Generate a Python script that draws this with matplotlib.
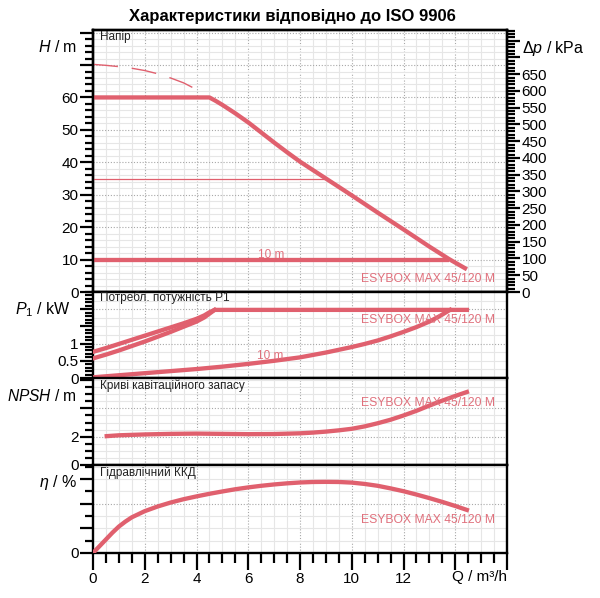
import matplotlib
matplotlib.use('Agg')
import numpy as np
import matplotlib.pyplot as plt
from matplotlib.ticker import MultipleLocator, FixedLocator, FixedFormatter

plt.rcParams['font.family'] = ['Liberation Sans', 'DejaVu Sans']
plt.rcParams['mathtext.fontset'] = 'custom'
plt.rcParams['mathtext.rm'] = 'Liberation Sans'
plt.rcParams['mathtext.it'] = 'Liberation Sans:italic'

# ---------------- data ----------------
title = "Характеристики відповідно до ISO 9906"
model = "ESYBOX MAX 45/120 M"
panel_names = ["Напір", "Потребл. потужність P1", "Криві кавітаційного запасу", "Гідравлічний ККД"]

q_head = [0, 4.5, 4.75, 5, 5.5, 6, 6.5, 7, 7.5, 8, 8.5, 9, 10, 11, 12, 13, 13.75, 14.45]
h_head = [60, 60, 58.9, 57.7, 55.1, 52.3, 49.2, 46.1, 43.1, 40.2, 37.6, 35.0, 29.8, 24.5, 19.3, 14.0, 10.2, 7.0]

q_dash = [0, 0.5, 1, 1.5, 2, 2.5, 3, 3.5, 3.94]
h_dash = [70.2, 69.9, 69.5, 69.0, 68.3, 67.3, 66.0, 64.5, 62.7]

q_h10 = [0, 13.75]
h_h10 = [10, 10]
q_h35 = [0, 8.97]
h_h35 = [35, 35]

q_p_up = [0, 0.5, 1, 1.5, 2, 2.5, 3, 3.5, 4, 4.3, 4.5, 4.7, 14.45]
p_up = [0.76, 0.87, 0.99, 1.11, 1.23, 1.35, 1.47, 1.59, 1.72, 1.82, 1.91, 1.98, 1.98]
q_p_lo = [0, 0.5, 1, 1.5, 2, 2.5, 3, 3.5, 4, 4.3, 4.5, 4.7]
p_lo = [0.57, 0.68, 0.80, 0.93, 1.06, 1.20, 1.34, 1.49, 1.64, 1.76, 1.87, 1.98]
q_p10 = [0, 1, 2, 3, 4, 5, 6, 7, 8, 9, 10, 10.5, 11, 11.5, 12, 12.5, 13, 13.4, 13.8]
p_10 = [0.02, 0.08, 0.14, 0.20, 0.26, 0.33, 0.41, 0.50, 0.60, 0.74, 0.90, 0.99, 1.09, 1.21, 1.34, 1.48, 1.64, 1.80, 1.98]

q_npsh = [0.53, 1, 2, 3, 4, 5, 6, 7, 8, 8.5, 9, 9.5, 10, 10.5, 11, 11.5, 12, 12.5, 13, 13.5, 14, 14.45]
npsh = [2.04, 2.10, 2.16, 2.20, 2.22, 2.20, 2.18, 2.19, 2.24, 2.29, 2.36, 2.45, 2.56, 2.73, 2.95, 3.20, 3.50, 3.83, 4.20, 4.55, 4.88, 5.16]

q_eta = [0, 0.25, 0.5, 0.75, 1, 1.25, 1.5, 2, 2.5, 3, 3.5, 4, 4.5, 5, 5.5, 6, 6.5, 7, 7.5, 8, 8.5, 9,
         9.5, 10, 10.5, 11, 11.5, 12, 12.5, 13, 13.5, 14, 14.45]
eta = [0, 5.5, 11, 16.5, 21.5, 25.5, 29, 34, 37.8, 41, 43.7, 46, 48.1, 50, 51.8, 53.3, 54.6, 55.7, 56.6, 57.3, 57.7, 57.8,
       57.7, 57.2, 56.1, 54.6, 52.5, 50.2, 47.5, 44.6, 41.5, 38.2, 35]

x_ticks = [0, 2, 4, 6, 8, 10, 12, 14, 16]
x_ticklabels = ["0", "2", "4", "6", "8", "10", "12", "", ""]
h_ticks = [0, 10, 20, 30, 40, 50, 60, 70, 80]
h_ticklabels = ["0", "10", "20", "30", "40", "50", "60", "", ""]
kpa_ticks = list(range(0, 800, 50))
kpa_ticklabels = [str(v) if v <= 650 else "" for v in kpa_ticks]
p_ticks = [0, 0.5, 1, 1.5, 2]
p_ticklabels = ["0", "0.5", "1", "", ""]
n_ticks = [0, 2, 4, 6]
n_ticklabels = ["0", "2", "", ""]
e_ticks = [0, 20, 40, 60]
e_ticklabels = ["0", "", "", ""]

# ---------------- style ----------------
RED = '#E0606E'
TXT = '#E0707C'
W, HH = 600, 598
fig = plt.figure(figsize=(6, 5.98), dpi=100)

def rect(top, bottom):
    return [93 / W, 1 - bottom / HH, (507 - 93) / W, (bottom - top) / HH]

def style(ax, showx=False):
    for s in ax.spines.values():
        s.set_linewidth(1.7)
        s.set_color('black')
    ax.tick_params(which='major', direction='out', length=9.5, width=1.6, labelsize=11, pad=1)
    ax.tick_params(which='minor', direction='out', length=5.5, width=1.6)
    ax.tick_params(axis='y', right=False)
    ax.tick_params(axis='x', top=False)
    if not showx:
        ax.tick_params(axis='x', which='both', bottom=False, labelbottom=False)
    ax.set_xlim(0, 16)
    ax.xaxis.set_major_locator(FixedLocator(x_ticks))
    ax.xaxis.set_major_formatter(FixedFormatter(x_ticklabels))
    ax.xaxis.set_minor_locator(MultipleLocator(0.5))
    for xv in np.arange(0.5, 16, 0.5):
        if xv % 2 == 0:
            ax.axvline(xv, color='#a8a8a8', lw=0.8, ls=(0, (1, 1.6)), zorder=0)
        else:
            ax.axvline(xv, color='#e6e6e6', lw=0.8, zorder=0)

def hgrid(ax, minor_vals, major_vals):
    for v in minor_vals:
        ax.axhline(v, color='#e6e6e6', lw=0.8, zorder=0)
    for v in major_vals:
        ax.axhline(v, color='#a8a8a8', lw=0.8, ls=(0, (1, 1.6)), zorder=0)

LW = 3.1

# ---- Head panel ----
ax1 = fig.add_axes(rect(30, 292))
style(ax1)
ax1.set_ylim(0, 80.8)
ax1.yaxis.set_major_locator(FixedLocator(h_ticks))
ax1.yaxis.set_major_formatter(FixedFormatter(h_ticklabels))
ax1.yaxis.set_minor_locator(MultipleLocator(2))
hgrid(ax1, [v for v in np.arange(2, 80, 2) if v % 10 != 0], [10, 20, 30, 40, 50, 60, 70, 80])
ax1.plot(q_head, h_head, color=RED, lw=LW, solid_capstyle='butt', solid_joinstyle='round', zorder=3)
ax1.plot(q_h10, h_h10, color=RED, lw=LW, solid_capstyle='butt', zorder=3)
ax1.plot(q_h35, h_h35, color=RED, lw=0.9, zorder=3)
ax1.plot(q_dash, h_dash, color=RED, lw=1.0, dashes=(18, 10), zorder=3)
ax1.text(6.9, 11.4, "10 m", color=TXT, fontsize=8.5, ha='center', va='center')
ax1.text(15.55, 4.0, model, color=TXT, fontsize=8.7, ha='right', va='center')

ax1r = ax1.twinx()
ax1r.set_ylim(0, 782)
ax1r.yaxis.set_major_locator(FixedLocator(kpa_ticks))
ax1r.yaxis.set_major_formatter(FixedFormatter(kpa_ticklabels))
ax1r.yaxis.set_minor_locator(MultipleLocator(10))
ax1r.tick_params(which='major', direction='out', length=9.5, width=1.6, labelsize=11, pad=1)
ax1r.tick_params(which='minor', direction='out', length=5.5, width=1.6)
for s in ax1r.spines.values():
    s.set_linewidth(1.7)

# ---- Power panel ----
ax2 = fig.add_axes(rect(292, 378))
style(ax2)
ax2.set_ylim(0, 2.5)
ax2.yaxis.set_major_locator(FixedLocator(p_ticks))
ax2.yaxis.set_major_formatter(FixedFormatter(p_ticklabels))
ax2.yaxis.set_minor_locator(MultipleLocator(0.1))
hgrid(ax2, [0.25, 0.5, 0.75, 1.25, 1.5, 1.75, 2.25], [1, 2])
ax2.plot(q_p_up, p_up, color=RED, lw=LW, solid_joinstyle='round', zorder=3)
ax2.plot(q_p_lo, p_lo, color=RED, lw=LW, solid_joinstyle='round', zorder=3)
ax2.plot(q_p10, p_10, color=RED, lw=LW, solid_joinstyle='round', zorder=3)
ax2.text(6.86, 0.64, "10 m", color=TXT, fontsize=8.5, ha='center', va='center')
ax2.text(15.55, 1.69, model, color=TXT, fontsize=8.7, ha='right', va='center')

# ---- NPSH panel ----
ax3 = fig.add_axes(rect(378, 465))
style(ax3)
ax3.set_ylim(0, 6.15)
ax3.yaxis.set_major_locator(FixedLocator(n_ticks))
ax3.yaxis.set_major_formatter(FixedFormatter(n_ticklabels))
ax3.yaxis.set_minor_locator(MultipleLocator(0.5))
hgrid(ax3, [0.5, 1, 1.5, 2.5, 3, 3.5, 4.5, 5, 5.5, 6], [2, 4])
ax3.plot(q_npsh, npsh, color=RED, lw=LW, solid_joinstyle='round', zorder=3)
ax3.text(15.55, 4.39, model, color=TXT, fontsize=8.7, ha='right', va='center')

# ---- Efficiency panel ----
ax4 = fig.add_axes(rect(465, 553))
style(ax4, showx=True)
ax4.set_ylim(0, 71.5)
ax4.yaxis.set_major_locator(FixedLocator(e_ticks))
ax4.yaxis.set_major_formatter(FixedFormatter(e_ticklabels))
ax4.yaxis.set_minor_locator(MultipleLocator(10))
hgrid(ax4, [10, 20, 30, 50, 60, 70], [40])
ax4.plot(q_eta, eta, color=RED, lw=LW, solid_joinstyle='round', zorder=3)
ax4.text(15.55, 26.8, model, color=TXT, fontsize=8.7, ha='right', va='center')
ax4.tick_params(axis='x', which='major', length=12, labelsize=11, pad=2)
ax4.tick_params(axis='x', which='minor', length=7)

# ---- texts ----
def ft(xpx, ypx, s, **kw):
    fig.text(xpx / W, 1 - ypx / HH, s, **kw)

ft(292, 17, title, ha='center', va='center', fontsize=12, fontweight='bold')
ft(77, 47, r"$H$ / m", ha='right', va='center', fontsize=11.5)
ft(522, 48, r"$\Delta p$ / kPa", ha='left', va='center', fontsize=11.5)
ft(71, 310, r"$P_1$ / kW", ha='right', va='center', fontsize=11.5)
ft(77, 396, r"$NPSH$ / m", ha='right', va='center', fontsize=11.2)
ft(77, 483, r"$\eta$ / %", ha='right', va='center', fontsize=11.5)
ft(507, 577, "Q / m³/h", ha='right', va='center', fontsize=11)

for yp, name in zip([37, 298, 386, 473], panel_names):
    ft(100, yp, name, ha='left', va='center', fontsize=8.5, color='#222222')

fig.savefig('out.png', dpi=100)
